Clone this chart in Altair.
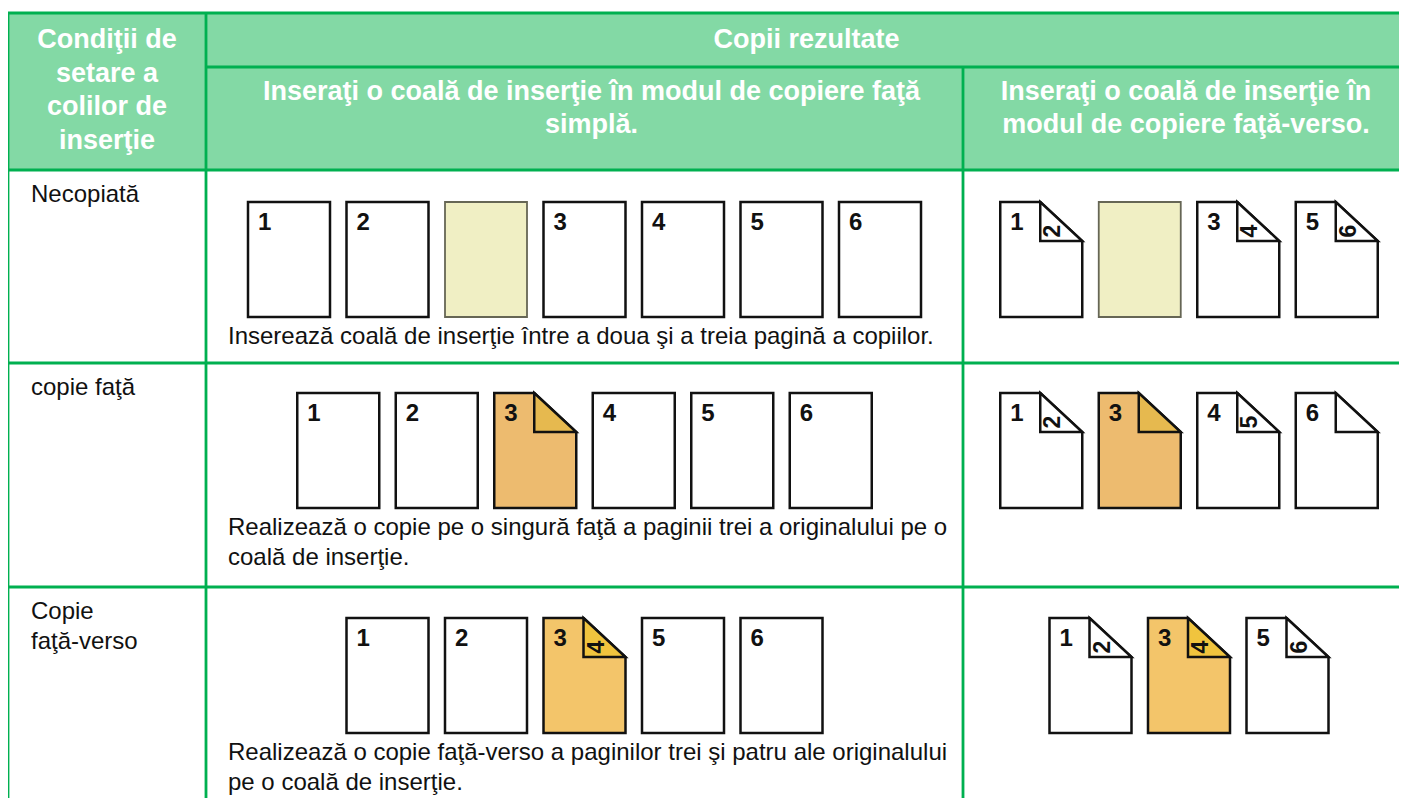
import altair as alt
import pandas as pd

# ---------------- content ----------------
header_left = ["Condiţii de", "setare a", "colilor de", "inserţie"]
header_top = ["Copii rezultate"]
header_simplex = ["Inseraţi o coală de inserţie în modul de copiere faţă", "simplă."]
header_duplex = ["Inseraţi o coală de inserţie în", "modul de copiere faţă-verso."]

row_labels = [["Necopiată"], ["copie faţă"], ["Copie", "faţă-verso"]]
row_notes = [
    ["Inserează coală de inserţie între a doua şi a treia pagină a copiilor."],
    ["Realizează o copie pe o singură faţă a paginii trei a originalului pe o",
     "coală de inserţie."],
    ["Realizează o copie faţă-verso a paginilor trei şi patru ale originalului",
     "pe o coală de inserţie."],
]

# each sheet: (front page, back page or None for a flat sheet, paper kind)
simplex_sheets = [
    [("1", None, "plain"), ("2", None, "plain"), ("", None, "blank"), ("3", None, "plain"),
     ("4", None, "plain"), ("5", None, "plain"), ("6", None, "plain")],
    [("1", None, "plain"), ("2", None, "plain"), ("3", "", "orange"), ("4", None, "plain"),
     ("5", None, "plain"), ("6", None, "plain")],
    [("1", None, "plain"), ("2", None, "plain"), ("3", "4", "gold"), ("5", None, "plain"),
     ("6", None, "plain")],
]
duplex_sheets = [
    [("1", "2", "plain"), ("", None, "blank"), ("3", "4", "plain"), ("5", "6", "plain")],
    [("1", "2", "plain"), ("3", "", "orange"), ("4", "5", "plain"), ("6", "", "plain")],
    [("1", "2", "plain"), ("3", "4", "gold"), ("5", "6", "plain")],
]

# ---------------- layout (page pixel coordinates) ----------------
X_L, X_C1, X_C2, X_R = 8, 206, 963, 1407
Y_T, Y_H1, Y_H2 = 13, 67, 170
ROW_LINES = [363, 587]
Y_B = 806
PAGE_TOPS = [202, 393, 618]
PAGE_W, PAGE_H, STEP = 82, 115, 98.5
FOLD_W, FOLD_H = 42, 39
SIMPLEX_CX = (X_C1 + X_C2) / 2
DUPLEX_CX = 1189

PAPER = {
    "plain": dict(fill="#ffffff", fold="#ffffff", stroke="#111111", sw=2.5),
    "blank": dict(fill="#f0efc4", fold="#f0efc4", stroke="#666655", sw=1.8),
    "orange": dict(fill="#edbb6f", fold="#e6b94f", stroke="#222222", sw=2.3),
    "gold": dict(fill="#f3c56a", fold="#f0c43e", stroke="#222222", sw=2.3),
}

GREEN = "#00b050"
HEAD_FILL = "#83d9a5"
FONT = "Liberation Sans"

# ---------------- build tables ----------------
rects, polys, folds, fronts, backs, notes, labels = [], [], [], [], [], [], []
for r in range(3):
    top = PAGE_TOPS[r]
    bottom = top + PAGE_H
    row_top = Y_H2 if r == 0 else ROW_LINES[r - 1]
    for li, line in enumerate(row_labels[r]):
        labels.append(dict(x=X_L + 23, y=row_top + 25 + li * 30, t=line))
    for li, line in enumerate(row_notes[r]):
        notes.append(dict(x=X_C1 + 22, y=bottom + 20 + li * 30, t=line))
    for side, (sheets, cx) in enumerate(((simplex_sheets[r], SIMPLEX_CX), (duplex_sheets[r], DUPLEX_CX))):
        n = len(sheets)
        start = cx - ((n - 1) * STEP + PAGE_W) / 2
        for i, (front, back, kind) in enumerate(sheets):
            st = PAPER[kind]
            left = start + i * STEP
            right = left + PAGE_W
            if back is None:
                rects.append(dict(x=left, x2=right, y=top, y2=bottom,
                                  fill=st["fill"], stroke=st["stroke"], sw=st["sw"]))
            else:
                pid = f"{r}-{side}-{i}"
                fx, fy = right - FOLD_W, top + FOLD_H
                polys += [dict(id=pid, x=left, y=top, y2=bottom, fill=st["fill"]),
                          dict(id=pid, x=fx, y=top, y2=bottom, fill=st["fill"]),
                          dict(id=pid, x=right, y=fy, y2=bottom, fill=st["fill"])]
                folds += [dict(id=pid, x=fx, y=top, y2=fy, fill=st["fold"]),
                          dict(id=pid, x=right, y=fy, y2=fy, fill=st["fold"])]
                if back:
                    backs.append(dict(x=fx + 13, y=fy - 10, t=back))
            if front:
                fronts.append(dict(x=left + 10, y=top + 21, t=front))

heads = []
for li, line in enumerate(header_left):
    heads.append(dict(x=(X_L + X_C1) / 2, y=40 + li * 33.5, t=line))
heads.append(dict(x=(X_C1 + X_R) / 2, y=40, t=header_top[0]))
for li, line in enumerate(header_simplex):
    heads.append(dict(x=SIMPLEX_CX + 7, y=92 + li * 33, t=line))
for li, line in enumerate(header_duplex):
    heads.append(dict(x=DUPLEX_CX - 3, y=92 + li * 33, t=line))

grid = [
    dict(x=X_L, x2=X_R, y=Y_T, y2=Y_T),
    dict(x=X_C1, x2=X_R, y=Y_H1, y2=Y_H1),
    dict(x=X_L, x2=X_R, y=Y_H2, y2=Y_H2),
] + [dict(x=X_L, x2=X_R, y=yl, y2=yl) for yl in ROW_LINES] + [
    dict(x=X_L, x2=X_L, y=Y_T, y2=Y_B),
    dict(x=X_C1, x2=X_C1, y=Y_T, y2=Y_B),
    dict(x=X_C2, x2=X_C2, y=Y_H1, y2=Y_B),
    dict(x=X_R, x2=X_R, y=Y_T, y2=Y_B),
]
head_bg = [dict(x=X_L, x2=X_R, y=Y_T, y2=Y_H2)]

# ---------------- chart ----------------
W, H = 1391, 790
xs = alt.Scale(domain=[8, 8 + W], nice=False, zero=False)
ys = alt.Scale(domain=[8, 8 + H], nice=False, zero=False, reverse=True)


def X(f="x"):
    return alt.X(f"{f}:Q", scale=xs, axis=None)


def Y(f="y"):
    return alt.Y(f"{f}:Q", scale=ys, axis=None)


bg = alt.Chart(pd.DataFrame(head_bg)).mark_rect(color=HEAD_FILL).encode(
    x=X(), x2="x2:Q", y=Y(), y2="y2:Q")

lines = alt.Chart(pd.DataFrame(grid)).mark_rule(color=GREEN, strokeWidth=2.8).encode(
    x=X(), x2="x2:Q", y=Y(), y2="y2:Q")

flat = alt.Chart(pd.DataFrame(rects)).mark_rect().encode(
    x=X(), x2="x2:Q", y=Y(), y2="y2:Q",
    fill=alt.Fill("fill:N", scale=None),
    stroke=alt.Stroke("stroke:N", scale=None),
    strokeWidth=alt.StrokeWidth("sw:Q", scale=None))

sheet = alt.Chart(pd.DataFrame(polys)).mark_area(
    orient="vertical", stroke="#111111", strokeWidth=2.5, strokeJoin="miter", opacity=1).encode(
    x=X(), y=Y(), y2="y2:Q", detail="id:N",
    fill=alt.Fill("fill:N", scale=None))

fold = alt.Chart(pd.DataFrame(folds)).mark_area(
    orient="vertical", stroke="#111111", strokeWidth=2.5, strokeJoin="miter", opacity=1).encode(
    x=X(), y=Y(), y2="y2:Q", detail="id:N",
    fill=alt.Fill("fill:N", scale=None))

front_txt = alt.Chart(pd.DataFrame(fronts)).mark_text(
    align="left", baseline="middle", font=FONT, fontSize=24, fontWeight="bold", color="#111111").encode(
    x=X(), y=Y(), text="t:N")

back_txt = alt.Chart(pd.DataFrame(backs)).mark_text(
    align="center", baseline="middle", font=FONT, fontSize=23, fontWeight="bold", angle=270,
    color="#111111").encode(x=X(), y=Y(), text="t:N")

note_txt = alt.Chart(pd.DataFrame(notes)).mark_text(
    align="left", baseline="middle", font=FONT, fontSize=24, color="#111111").encode(
    x=X(), y=Y(), text="t:N")

label_txt = alt.Chart(pd.DataFrame(labels)).mark_text(
    align="left", baseline="middle", font=FONT, fontSize=24, color="#111111").encode(
    x=X(), y=Y(), text="t:N")

head_txt = alt.Chart(pd.DataFrame(heads)).mark_text(
    align="center", baseline="middle", font=FONT, fontSize=27, fontWeight="bold", color="#ffffff").encode(
    x=X(), y=Y(), text="t:N")

chart = alt.layer(bg, lines, flat, sheet, fold, front_txt, back_txt, note_txt, label_txt, head_txt).properties(
    width=W, height=H, padding=0, autosize=alt.AutoSizeParams(type="none"), background="#ffffff"
).configure_view(strokeWidth=0)

chart.save("out.html", embed_options={"renderer": "svg", "actions": False})
